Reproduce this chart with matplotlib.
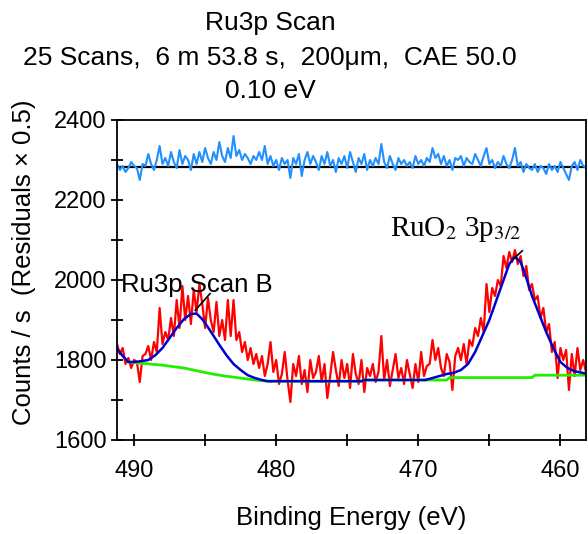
import numpy as np
import matplotlib
matplotlib.use("Agg")
import matplotlib.pyplot as plt
from matplotlib.ticker import MultipleLocator

plt.rcParams["font.family"] = ["Liberation Sans", "DejaVu Sans"]
plt.rcParams["mathtext.fontset"] = "stix"

# raw spectrum, 0.2 eV grid from 491.2 down to 458.2 eV
energy = np.linspace(491.2, 458.2, 166)
counts = [
    1840, 1815, 1830, 1790, 1805, 1780, 1800, 1795, 1745, 1810,
    1815, 1835, 1800, 1845, 1820, 1930, 1840, 1870, 1850, 1905,
    1860, 1950, 1880, 1985, 1900, 1960, 1890, 1975, 1920, 1990,
    1940, 1880, 1955, 1900, 1870, 1945, 1860, 1900, 1850, 1950,
    1860, 1950, 1850, 1870, 1820, 1845, 1800, 1830, 1790, 1815,
    1780, 1810, 1760, 1790, 1845, 1770, 1800, 1740, 1765, 1820,
    1750, 1695, 1790, 1760, 1810, 1740, 1775, 1720, 1800, 1755,
    1770, 1810, 1745, 1790, 1705, 1760, 1820, 1775, 1735, 1800,
    1755, 1790, 1730, 1815, 1765, 1740, 1800, 1720, 1780, 1760,
    1790, 1745, 1770, 1860, 1750, 1800, 1735, 1775, 1815, 1755,
    1780, 1740, 1800, 1765, 1730, 1790, 1745, 1820, 1760, 1785,
    1790, 1850, 1800, 1830, 1780, 1760, 1815, 1795, 1725, 1810,
    1830, 1800, 1840, 1790, 1850, 1835, 1880, 1860, 1905, 1870,
    1990, 1920, 1980, 1960, 2000, 1985, 2060, 2030, 2070, 2045,
    2075, 2040, 2060, 2010, 2035, 1975, 1990, 1950, 1960, 1905,
    1930, 1870, 1890, 1820, 1845, 1755, 1830, 1800, 1825, 1725,
    1815, 1760, 1830, 1775, 1800, 1770,
]
# residuals (x 0.5, offset onto the 2283 line)
resid = [
    2290, 2275, 2285, 2270, 2280, 2295, 2285, 2280, 2250, 2290,
    2285, 2315, 2290, 2275, 2300, 2335, 2290, 2305, 2285, 2320,
    2295, 2280, 2325, 2290, 2310, 2300, 2275, 2315, 2290, 2320,
    2295, 2330, 2305, 2290, 2320, 2300, 2345, 2310, 2295, 2330,
    2305, 2360, 2310, 2325, 2300, 2315, 2305, 2290, 2310, 2300,
    2320, 2300, 2335, 2290, 2310, 2285, 2300, 2275, 2305, 2290,
    2300, 2255, 2305, 2290, 2315, 2260, 2300, 2320, 2290, 2310,
    2295, 2275, 2310, 2290, 2320, 2285, 2300, 2270, 2305, 2290,
    2310, 2280, 2320, 2295, 2270, 2305, 2290, 2315, 2275, 2300,
    2285, 2305, 2290, 2340, 2295, 2280, 2310, 2290, 2275, 2305,
    2290, 2300, 2285, 2295, 2280, 2310, 2290, 2300, 2285, 2305,
    2295, 2330, 2305, 2315, 2290, 2310, 2285, 2300, 2275, 2305,
    2300, 2310, 2285, 2305, 2295, 2290, 2315, 2300, 2285, 2310,
    2330, 2290, 2300, 2280, 2295, 2285, 2310, 2290, 2280, 2300,
    2330, 2285, 2295, 2270, 2290, 2280, 2275, 2290, 2270, 2285,
    2280, 2265, 2290, 2275, 2285, 2270, 2295, 2280, 2265, 2250,
    2285, 2295, 2275, 2300, 2285, 2280,
]
resid_zero = 2283

# fitted envelope
fit_e = [491.2, 490.8, 490.4, 490.0, 489.5, 489.0, 488.5, 488.0, 487.5, 487.0,
         486.5, 486.0, 485.6, 485.2, 484.8, 484.4, 484.0, 483.5, 483.0, 482.5,
         482.0, 481.5, 481.0, 480.6, 474.0, 473.8, 469.5, 469.0, 468.5, 468.0,
         467.5, 467.0, 466.5, 466.0, 465.5, 465.0, 464.5, 464.0, 463.6, 463.2,
         462.8, 462.4, 462.0, 461.5, 461.0, 460.5, 460.0, 459.5, 459.0, 458.2]
fit_c = [1828, 1810, 1795, 1795, 1797, 1800, 1812, 1830, 1855, 1880,
         1902, 1915, 1916, 1902, 1882, 1860, 1838, 1812, 1790, 1775,
         1762, 1755, 1750, 1747, 1747, 1750, 1750, 1755, 1760, 1765,
         1768, 1775, 1790, 1820, 1860, 1900, 1950, 2000, 2040, 2058,
         2045, 2005, 1960, 1915, 1870, 1830, 1795, 1780, 1772, 1766]

# background
bg_e = [490.4, 488.0, 486.5, 484.5, 483.6, 481.5, 480.6, 474.0, 473.8, 468.0,
        467.8, 462.0, 461.8, 458.2]
bg_c = [1795, 1787, 1780, 1765, 1760, 1750, 1747, 1747, 1750, 1750,
        1756, 1756, 1762, 1762]

fig = plt.figure(figsize=(5.88, 5.34), dpi=100)
ax = fig.add_axes([117 / 588, 1 - 440 / 534, (586 - 117) / 588, (440 - 120) / 534])

ax.plot(energy, counts, color="#ff0000", lw=1.6)
ax.plot(bg_e, bg_c, color="#22ee00", lw=2)
ax.plot(fit_e, fit_c, color="#0000cc", lw=1.8)
ax.axhline(resid_zero, color="black", lw=1.6)
ax.plot(energy, resid, color="#2090ff", lw=1.5)

ax.set_xlim(491.2, 458.2)
ax.set_ylim(1600, 2400)
ax.xaxis.set_major_locator(MultipleLocator(10))
ax.xaxis.set_minor_locator(MultipleLocator(5))
ax.yaxis.set_major_locator(MultipleLocator(200))
ax.yaxis.set_minor_locator(MultipleLocator(100))
ax.tick_params(which="both", direction="inout", length=9, width=1.3,
               labelsize=17, top=False, right=False)
ax.tick_params(axis="x", pad=10)
ax.tick_params(axis="y", pad=3)
for s in ax.spines.values():
    s.set_linewidth(1.3)

# peak labels
ax.text(490.95, 1988, "Ru3p Scan B", fontsize=18.5, va="center", ha="left")
ax.plot([484.65, 485.7], [1966, 1924], color="black", lw=1.2)
ax.text(471.97, 2125, r"RuO$_2$ 3p$_{3/2}$", fontsize=21, va="center", ha="left",
        family="Liberation Serif")
ax.plot([462.68, 463.3], [2073, 2053], color="black", lw=1.2)

fig.text(270 / 588, 1 - 23 / 534, "Ru3p Scan", ha="center", va="center", fontsize=19)
fig.text(270 / 588, 1 - 58 / 534, "25 Scans,  6 m 53.8 s,  200μm,  CAE 50.0",
         ha="center", va="center", fontsize=19)
fig.text(270 / 588, 1 - 91 / 534, "0.10 eV", ha="center", va="center", fontsize=19)
fig.text(351 / 588, 1 - 518 / 534, "Binding Energy (eV)", ha="center", va="center", fontsize=18.5)
fig.text(24 / 588, 1 - 262 / 534, "Counts / s  (Residuals × 0.5)", ha="center", va="center",
         rotation=90, fontsize=18.5)

fig.savefig("out.png", dpi=100)
